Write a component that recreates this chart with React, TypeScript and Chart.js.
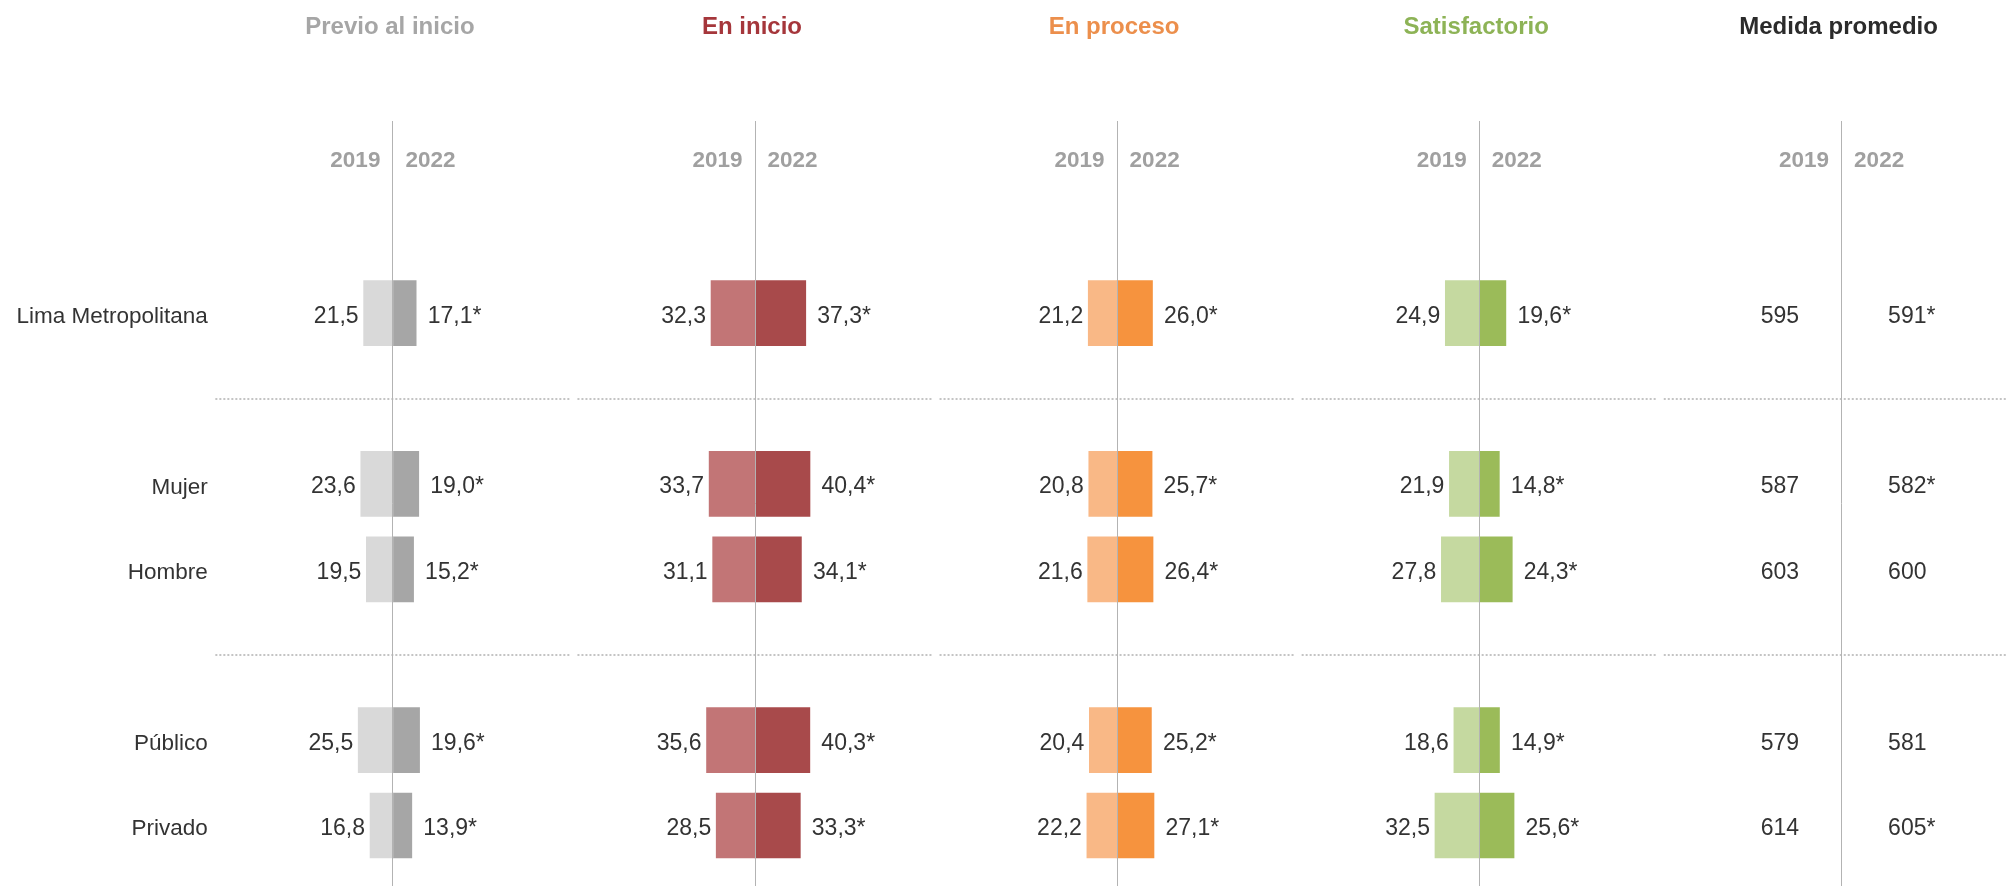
import { useEffect, useRef } from "react";
import { Chart, registerables } from "chart.js";

Chart.register(...registerables);

const FONT = "'Liberation Sans', Arial, Helvetica, sans-serif";

// Row categories ("" = spacer rows between groups)
const rows = ["Lima Metropolitana", "", "Mujer", "Hombre", "", "Público", "Privado"];
const panelTitles = ["Previo al inicio", "En inicio", "En proceso", "Satisfactorio", "Medida promedio"];
const years = ["2019", "2022"];

// Percentages by level
const previo2019 = [21.5, null, 23.6, 19.5, null, 25.5, 16.8];
const previo2022 = [17.1, null, 19.0, 15.2, null, 19.6, 13.9];
const previoSig = [true, null, true, true, null, true, true];

const inicio2019 = [32.3, null, 33.7, 31.1, null, 35.6, 28.5];
const inicio2022 = [37.3, null, 40.4, 34.1, null, 40.3, 33.3];
const inicioSig = [true, null, true, true, null, true, true];

const proceso2019 = [21.2, null, 20.8, 21.6, null, 20.4, 22.2];
const proceso2022 = [26.0, null, 25.7, 26.4, null, 25.2, 27.1];
const procesoSig = [true, null, true, true, null, true, true];

const satis2019 = [24.9, null, 21.9, 27.8, null, 18.6, 32.5];
const satis2022 = [19.6, null, 14.8, 24.3, null, 14.9, 25.6];
const satisSig = [true, null, true, true, null, true, true];

// Average score
const medida2019 = [595, null, 587, 603, null, 579, 614];
const medida2022 = [591, null, 582, 600, null, 581, 605];
const medidaSig = [true, null, true, false, null, false, true];

const levelData = [
  { v19: previo2019, v22: previo2022, sig: previoSig },
  { v19: inicio2019, v22: inicio2022, sig: inicioSig },
  { v19: proceso2019, v22: proceso2022, sig: procesoSig },
  { v19: satis2019, v22: satis2022, sig: satisSig },
];

const lightColors = ["#d9d9d9", "#c27576", "#f9b886", "#c5d9a0"];
const darkColors = ["#a6a6a6", "#a84a4b", "#f6933e", "#9bbb59"];
const titleColors = ["#a6a6a6", "#a5363b", "#ec8f4c", "#8db356", "#2b2b2b"];

const fmt = (v: number) => v.toFixed(1).replace(".", ",");

const overlayPlugin = {
  id: "overlay",
  afterDraw(chart: any) {
    const ctx = chart.ctx as CanvasRenderingContext2D;
    const yScale = chart.scales.y;
    ctx.save();

    for (let p = 0; p < 5; p++) {
      const sc = chart.scales["x" + p];
      const cx = sc.getPixelForValue(0);

      // title
      ctx.font = `bold 24px ${FONT}`;
      ctx.fillStyle = titleColors[p];
      ctx.textAlign = "center";
      ctx.textBaseline = "alphabetic";
      ctx.fillText(panelTitles[p], cx - 3, 34);

      // year headers
      ctx.font = `bold 22.5px ${FONT}`;
      ctx.fillStyle = "#a0a0a0";
      ctx.textAlign = "right";
      ctx.fillText(years[0], cx - 12.5, 167);
      ctx.textAlign = "left";
      ctx.fillText(years[1], cx + 12.5, 167);

      // dotted separators in spacer rows
      ctx.strokeStyle = "#c4c4c4";
      ctx.lineWidth = 2;
      ctx.setLineDash([2, 2]);
      rows.forEach((r, i) => {
        if (r !== "") return;
        const yy = Math.round(yScale.getPixelForValue(i));
        ctx.beginPath();
        ctx.moveTo(sc.left + 3.5, yy);
        ctx.lineTo(p === 4 ? chart.width : sc.right - 4.5, yy);
        ctx.stroke();
      });
      ctx.setLineDash([]);

      // center line
      ctx.strokeStyle = "#b3b3b3";
      ctx.lineWidth = 1;
      const lx = Math.floor(cx) + 0.5;
      ctx.beginPath();
      ctx.moveTo(lx, 121);
      ctx.lineTo(lx, chart.height);
      ctx.stroke();
    }

    // bar value labels
    ctx.font = `23px ${FONT}`;
    ctx.fillStyle = "#333333";
    ctx.textBaseline = "alphabetic";
    for (let p = 0; p < 4; p++) {
      const m19 = chart.getDatasetMeta(p * 2);
      const m22 = chart.getDatasetMeta(p * 2 + 1);
      const d = levelData[p];
      rows.forEach((_, i) => {
        const a = d.v19[i];
        const b = d.v22[i];
        if (a != null) {
          const el = m19.data[i];
          ctx.textAlign = "right";
          ctx.fillText(fmt(a), el.x - 5, el.y + 9.5);
        }
        if (b != null) {
          const el = m22.data[i];
          ctx.textAlign = "left";
          ctx.fillText(fmt(b) + (d.sig[i] ? "*" : ""), el.x + 11.5, el.y + 9.5);
        }
      });
    }

    // average score values
    const ms = chart.scales.x4;
    const mcx = ms.getPixelForValue(0);
    rows.forEach((_, i) => {
      const a = medida2019[i];
      const b = medida2022[i];
      const yy = yScale.getPixelForValue(i) + 9.5;
      if (a != null) {
        ctx.textAlign = "right";
        ctx.fillText(String(a), mcx - 42.5, yy);
      }
      if (b != null) {
        ctx.textAlign = "left";
        ctx.fillText(String(b) + (medidaSig[i] ? "*" : ""), mcx + 46.5, yy);
      }
    });

    ctx.restore();
  },
};

export default function App() {
  const canvasRef = useRef<HTMLCanvasElement | null>(null);

  useEffect(() => {
    document.body.style.margin = "0";
    document.body.style.overflow = "hidden";
    const canvas = canvasRef.current;
    if (!canvas) return;

    const datasets: any[] = [];
    levelData.forEach((d, p) => {
      datasets.push({
        label: `${panelTitles[p]} ${years[0]}`,
        data: d.v19.map((v) => (v == null ? null : -v)),
        xAxisID: "x" + p,
        backgroundColor: lightColors[p],
        borderWidth: 0,
        barThickness: 65,
        grouped: false,
      });
      datasets.push({
        label: `${panelTitles[p]} ${years[1]}`,
        data: d.v22.map((v) => (v == null ? null : v)),
        xAxisID: "x" + p,
        backgroundColor: darkColors[p],
        borderWidth: 0,
        barThickness: 65,
        grouped: false,
      });
    });

    const xScale = (w: number, max: number) => ({
      type: "linear",
      position: "bottom",
      stack: "panels",
      stackWeight: w,
      min: -133,
      max,
      display: false,
    });

    const chart = new Chart(canvas, {
      type: "bar",
      data: { labels: rows, datasets },
      options: {
        indexAxis: "y",
        responsive: false,
        animation: false,
        devicePixelRatio: 1,
        layout: { padding: { top: 270.4, bottom: 17.8, left: 0, right: 0 } },
        plugins: { legend: { display: false }, tooltip: { enabled: false } },
        scales: {
          y: {
            type: "category",
            position: "left",
            grid: { display: false, drawTicks: false },
            border: { display: false },
            ticks: {
              color: "#333333",
              font: { size: 22.5, family: FONT },
              padding: 4,
              labelOffset: 3.5,
              autoSkip: false,
            },
            afterFit: (s: any) => {
              s.width = 211.85;
            },
          },
          x0: xScale(1, 133),
          x1: xScale(1, 133),
          x2: xScale(1, 133),
          x3: xScale(1, 133),
          x4: xScale(0.9576, 121.3),
        },
      } as any,
      plugins: [overlayPlugin],
    });

    return () => chart.destroy();
  }, []);

  return (
    <div style={{ position: "fixed", left: 0, top: 0, width: 2007, height: 886, background: "#fff" }}>
      <canvas ref={canvasRef} width={2007} height={886} style={{ display: "block" }} />
    </div>
  );
}
